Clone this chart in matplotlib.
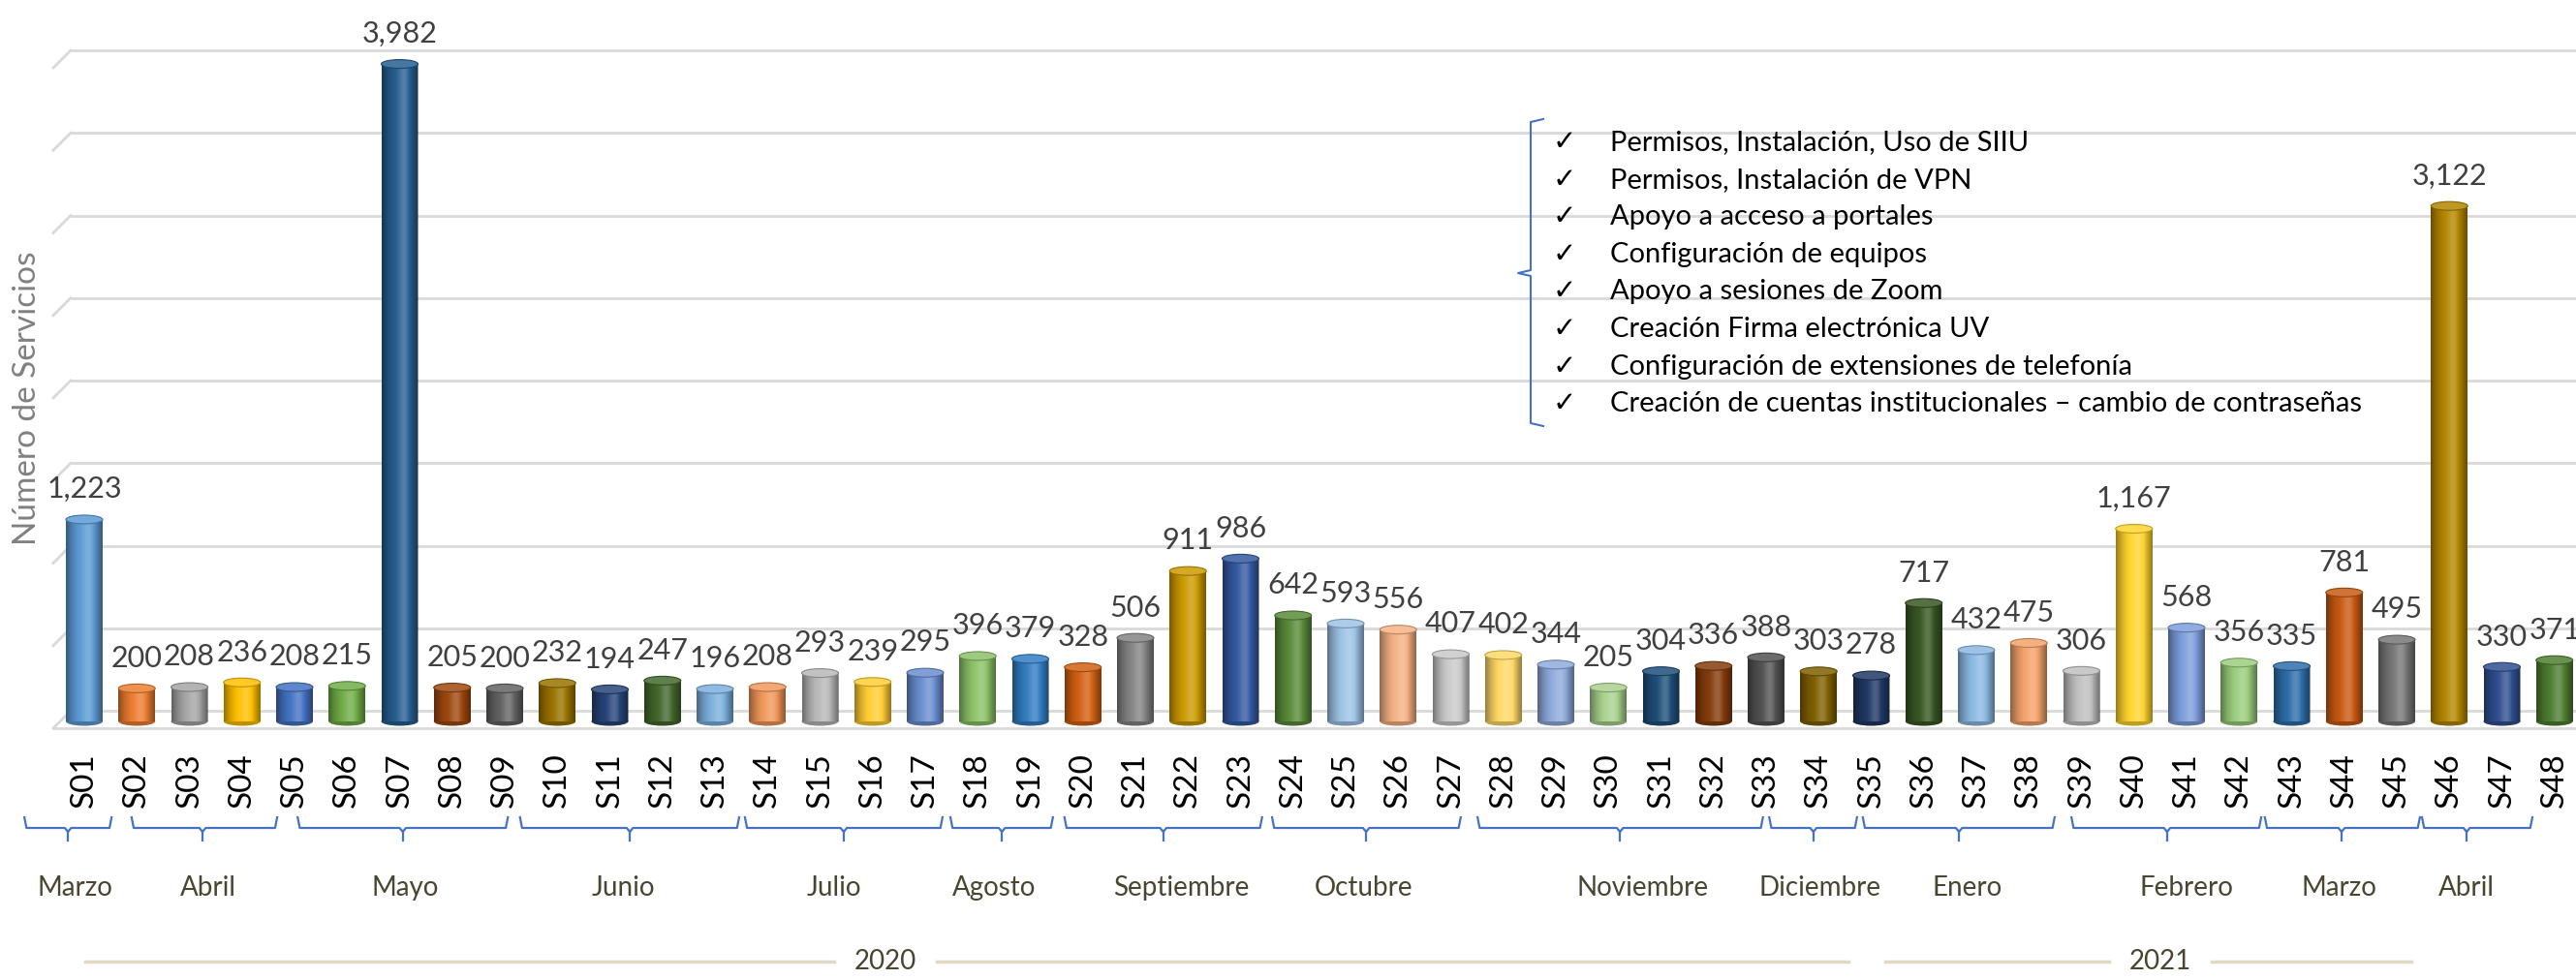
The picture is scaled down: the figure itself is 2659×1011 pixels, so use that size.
import numpy as np
import matplotlib.pyplot as plt
from matplotlib.patches import Ellipse
from matplotlib.lines import Line2D
from matplotlib.colors import to_rgb

# --- data -------------------------------------------------------------
weeks = [f"S{i:02d}" for i in range(1, 49)]
servicios = [1223, 200, 208, 236, 208, 215, 3982, 205, 200, 232, 194, 247,
             196, 208, 293, 239, 295, 396, 379, 328, 506, 911, 986, 642,
             593, 556, 407, 402, 344, 205, 304, 336, 388, 303, 278, 717,
             432, 475, 306, 1167, 568, 356, 335, 781, 495, 3122, 330, 371]
bar_colors = ['#5B9BD5', '#ED7D31', '#A5A5A5', '#FFC000', '#4472C4', '#70AD47',
              '#255E91', '#9E480E', '#636363', '#997300', '#264478', '#43682B',
              '#7CAFDD', '#F1975A', '#B7B7B7', '#FFCD33', '#698ED0', '#8CC168',
              '#327DC2', '#D26012', '#848484', '#CC9A00', '#3459A0', '#5A8A39',
              '#9DC3E6', '#F4B183', '#C9C9C9', '#FFD966', '#8FAADC', '#A9D18E',
              '#1F4E79', '#843C0C', '#525252', '#7F6000', '#203864', '#385723',
              '#8BB9E3', '#F3A26A', '#BFBFBF', '#FFD42E', '#7C9DDB', '#9ACD7C',
              '#2D6DA8', '#C75A12', '#767676', '#B38600', '#304F90', '#4F7D31']
grid_values = np.arange(0, 4001, 500)

months = ['Marzo', 'Abril', 'Mayo', 'Junio', 'Julio', 'Agosto', 'Septiembre',
          'Octubre', 'Noviembre', 'Diciembre', 'Enero', 'Febrero', 'Marzo', 'Abril']
# bracket spans (in week-axis units) and label centres, as drawn in the original
month_spans = [(-1.14, 0.52), (0.90, 3.67), (4.06, 8.06), (8.29, 12.46),
               (12.57, 16.33), (16.48, 18.43), (18.65, 22.41), (22.60, 26.19),
               (26.51, 31.94), (32.06, 33.73), (33.84, 37.49), (37.81, 41.42),
               (41.49, 44.44), (44.48, 46.58)]
month_ticks = [-0.31, 2.25, 6.06, 10.38, 14.45, 17.46, 20.53, 24.39, 29.22,
               32.90, 35.67, 39.63, 42.95, 45.33]
month_text_x = [-0.17, 2.36, 6.10, 10.25, 14.27, 17.31, 20.87, 24.35, 29.66,
                33.03, 35.82, 40.0, 42.91, 45.33]
years = ['2020', '2021']
year_spans = [(0.02, 33.57), (34.27, 44.28)]
year_text_x = [15.24, 39.50]

servicios_lista = [
    'Permisos, Instalación, Uso de SIIU',
    'Permisos, Instalación de VPN',
    'Apoyo a acceso a portales',
    'Configuración de equipos',
    'Apoyo a sesiones de Zoom',
    'Creación Firma electrónica UV',
    'Configuración de extensiones de telefonía',
    'Creación de cuentas institucionales – cambio de contraseñas',
]

# --- layout -----------------------------------------------------------
W, H = 2659, 1011
X0, DX = 87, 54.25      # pixel of first bar, pixels per week
Y0, DY = 745, 0.1705    # pixel row of zero, pixels per service


def py(p):
    return (Y0 - p) / DY


def fx(p):
    return p / W


def fy(p):
    return 1 - p / H


fig = plt.figure(figsize=(W / 100, H / 100), dpi=100)
ax = fig.add_axes([0, 0, 1, 1])
ax.axis('off')
xmin, xmax = -X0 / DX, (W - X0) / DX
ymin, ymax = -(H - Y0) / DY, Y0 / DY

x = np.arange(len(weeks))

# gridlines with a little 3D floor
back_dy = 11 / DY
side_dy = 18 / DY
xb, xf = -0.258, -0.59
for g in grid_values:
    yb = g + back_dy
    ax.plot([xb, xmax], [yb, yb], color='#D9D9D9', lw=2, zorder=1, solid_capstyle='butt')
    ax.plot([xf, xb], [yb - side_dy, yb], color='#D9D9D9', lw=2, zorder=1)
ax.plot([xf, xmax], [back_dy - side_dy] * 2, color='#D9D9D9', lw=2, zorder=1)

# cylinder bars
bw = 0.7
bars = ax.bar(x, servicios, width=bw, color=bar_colors, zorder=3)

t = np.linspace(0, 1, 80)
b = -0.42 * (1 - np.sin(np.pi * t)) ** 1.2 + 0.22 * np.exp(-((t - 0.62) / 0.16) ** 2)
overlay = np.zeros((1, len(t), 4))
overlay[0, :, :3] = (b > 0)[:, None] * 1.0
overlay[0, :, 3] = np.abs(b)

cap_h = 9 / DY
for xi, v, c, bar in zip(x, servicios, bar_colors, bars):
    im = ax.imshow(overlay, extent=(xi - bw / 2, xi + bw / 2, 0, v), aspect='auto',
                   interpolation='bilinear', zorder=4)
    im.set_clip_path(bar)
    rgb = np.array(to_rgb(c))
    top = rgb * 0.85 + 0.15
    dark = rgb * 0.75
    ax.add_patch(Ellipse((xi, 0), bw, cap_h, fc=dark, ec='none', zorder=2.9))
    ax.add_patch(Ellipse((xi, v), bw, cap_h, fc=top, ec=dark, lw=0.8, zorder=5))
    ax.annotate(f"{v:,}", (xi, v), xytext=(0, 16), textcoords='offset points',
                ha='center', va='baseline', fontsize=22, color='#404040',
                family='Lato', zorder=6)
    ax.text(xi, py(777), weeks[xi], rotation=90, ha='center', va='top',
            fontsize=24, family='Lato', color='black')

# month brackets
bc = '#4472C4'
for (a, e), tk, tx, name in zip(month_spans, month_ticks, month_text_x, months):
    ax.plot([a, a + 0.04, tk - 0.06, tk, tk + 0.06, e - 0.04, e],
            [py(844), py(855), py(855), py(859), py(855), py(855), py(844)],
            color=bc, lw=1.6, zorder=2)
    ax.plot([tk, tk], [py(858), py(868)], color=bc, lw=1.6, zorder=2)
    ax.text(tx, py(917), name, ha='center', va='center', fontsize=20,
            family='Lato', color='#4A4530')

# year lines
for (a, e), tx, yr in zip(year_spans, year_text_x, years):
    gap = 0.98
    ax.plot([a, tx - gap], [py(993)] * 2, color='#DDD9C3', lw=2.5)
    ax.plot([tx + gap, e], [py(993)] * 2, color='#DDD9C3', lw=2.5)
    ax.text(tx, py(993), yr, ha='center', va='center', fontsize=20,
            family='Lato', color='#4A4530')

ax.set_xlim(xmin, xmax)
ax.set_ylim(ymin, ymax)

# y axis title
fig.text(fx(28), fy(411), 'Número de Servicios', rotation=90, ha='center',
         va='center', fontsize=24, family='Lato', color='#808080')

# list of services with bracket
y_first, y_step = 147, 38.6
for i, item in enumerate(servicios_lista):
    yy = fy(y_first + i * y_step)
    fig.text(fx(1615), yy, '✓', ha='center', va='center', fontsize=21,
             family=['DejaVu Sans'], color='black')
    fig.text(fx(1662), yy, item, ha='left', va='center', fontsize=21,
             family=['Lato', 'DejaVu Sans'], color='black')

bx = [1593, 1580, 1580, 1567, 1580, 1580, 1593]
by = [123, 126, 279, 282, 285, 437, 440]
fig.add_artist(Line2D([fx(p) for p in bx], [fy(p) for p in by],
                      color=bc, lw=1.5, transform=fig.transFigure))

fig.savefig('out.png', dpi=100)
